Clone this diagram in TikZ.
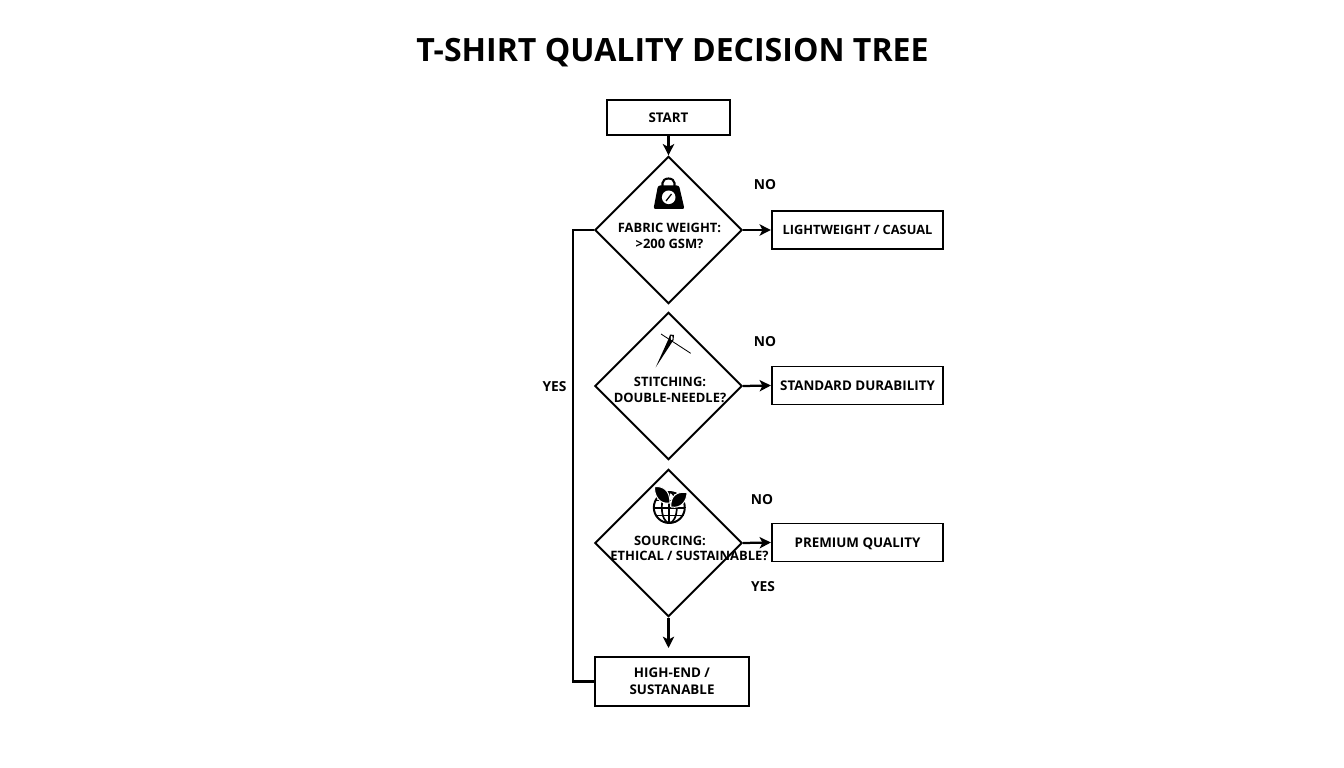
\documentclass[tikz,border=0pt]{standalone}
\usepackage{fontspec}
\setmainfont{Open Sans}
\usetikzlibrary{shapes.geometric,arrows.meta}
\tikzset{
	boxnode/.style={draw,line width=1.4pt,minimum height=0.95cm,minimum width=4.28cm,font=\bfseries\fontsize{9.5}{12.4}\selectfont,align=center},
	decision/.style={draw,diamond,aspect=1,line width=1.4pt,minimum width=3.68cm,minimum height=3.68cm,inner sep=0pt},
	decisiontext/.style={font=\bfseries\fontsize{9.2}{11.4}\selectfont,align=center,inner sep=0pt},
	answer/.style={font=\bfseries\fontsize{9.8}{12}\selectfont,inner sep=0pt},
	flow/.style={line width=1.6pt,-{Stealth[length=8pt,width=8pt,inset=2pt]}},
	plainflow/.style={line width=1.6pt}
}
\begin{document}
\begin{tikzpicture}[x=0.025cm,y=-0.025cm]
	\useasboundingbox (0,0) rectangle (1344,768);
	\node[font=\bfseries\fontsize{22.8}{28}\selectfont,inner sep=0pt,text depth=0pt] (title) at (672.5,49.5) {T-SHIRT QUALITY DECISION TREE};
	% boxes
	\node[boxnode,minimum width=3.07cm,minimum height=0.87cm] (start) at (668.5,117.5) {START};
	\node[boxnode,font=\bfseries\fontsize{9.1}{12}\selectfont] (casual) at (857.5,230) {LIGHTWEIGHT / CASUAL};
	\node[boxnode] (standard) at (857.5,385.5) {STANDARD DURABILITY};
	\node[boxnode,text depth=0pt] (premium) at (857.5,542.5) {PREMIUM QUALITY};
	\node[boxnode,minimum width=3.85cm,minimum height=1.22cm] (highend) at (672,681.5) {HIGH-END /\\SUSTANABLE};
	% diamonds
	\node[decision] (weight) at (668.5,230) {};
	\node[decision] (stitching) at (668.5,386) {};
	\node[decision] (sourcing) at (668.5,543) {};
	\node[decisiontext] (weighttext) at (669.5,235.5) {FABRIC WEIGHT:\\>200 GSM?};
	\node[decisiontext] (stitchingtext) at (670,390) {STITCHING:\\DOUBLE-NEEDLE?};
	\node[decisiontext] (sourcingtop) at (670,540.5) {SOURCING:};
	\node[decisiontext] (sourcingbottom) at (689.5,556) {ETHICAL / SUSTAINABLE?};
	% answers
	\node[answer] (nocasual) at (765,185) {NO};
	\node[answer] (nostandard) at (765,342) {NO};
	\node[answer] (nopremium) at (762,499.5) {NO};
	\node[answer] (yesdown) at (763,586.5) {YES};
	\node[answer] (yesleft) at (554.5,387) {YES};
	% connectors
	\coordinate (downend) at (668.5,648);
	\draw[flow] (start.south) -- (weight.north);
	\draw[flow] (weight.east) -- (casual.west);
	\draw[flow] (stitching.east) -- (standard.west);
	\draw[flow] (sourcing.east) -- (premium.west);
	\draw[flow] (sourcing.south) -- (downend);
	\draw[plainflow] (weight.west) -- ++(-21,0) |- (highend.west);
	% weight icon
	\fill[rounded corners=1.5pt] (658,185.5) -- (679,185.5) -- (684.5,209) -- (653.5,209) -- cycle;
	\draw[line width=1.5pt] (662.5,186) -- (662.5,183) arc[start angle=180,end angle=360,x radius=6,y radius=4.5] -- (674.5,186);
	\fill[white] (668.7,197.3) circle (6.8);
	\draw[line width=0.9pt] (666,201) -- (671.5,194);
	% needle icon
	\fill (655.7,367.3) -- (668.5,339) -- (670,334.5) -- (674,335) -- (673.5,340) -- cycle;
	\fill[white] (671.7,338) ellipse (1 and 2.2);
	\draw[line width=0.6pt] (661,334) -- (690.7,353.3);
	% globe icon
	\draw[line width=1.4pt] (669.3,507.5) circle (15.5);
	\draw[line width=1.2pt] (669.3,507.5) ellipse (7.5 and 15.5);
	\draw[line width=1.2pt] (669.3,492) -- (669.3,523);
	\draw[line width=1.2pt] (655,500.5) -- (683.5,500.5);
	\draw[line width=1.2pt] (653.5,508) -- (685,508);
	\draw[line width=1.2pt] (655,515.5) -- (683.5,515.5);
	\fill[draw=white,line width=0.7pt] (670,503) .. controls (670,490) and (663,486) .. (654.5,486.5) .. controls (654,495) and (659,505) .. (670,503);
	\fill[draw=white,line width=0.7pt] (671,507) .. controls (670,496) and (677,491) .. (687,492.5) .. controls (687,501) and (681,509) .. (671,507);
\end{tikzpicture}
\end{document}
